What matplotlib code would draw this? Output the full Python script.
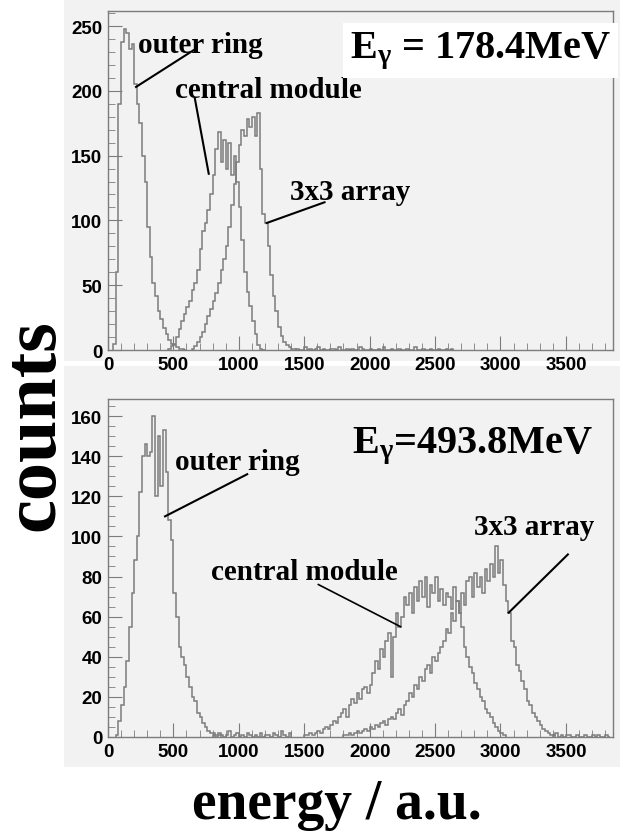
import numpy as np
import matplotlib
matplotlib.use('Agg')
import matplotlib.pyplot as plt
from matplotlib.patches import Rectangle

plt.rcParams['mathtext.fontset'] = 'custom'
plt.rcParams['mathtext.rm'] = 'Liberation Serif:bold'
plt.rcParams['mathtext.bf'] = 'Liberation Serif:bold'
plt.rcParams['mathtext.it'] = 'Liberation Serif:bold'

BIN = 20

# top panel, E_gamma = 178.4 MeV
outer_top_start = 40
outer_top = [5, 60, 190, 238, 248, 245, 232, 236, 205, 190, 175, 150, 130, 95, 72, 52,
             42, 30, 24, 17, 12, 8, 5, 4, 2, 1, 1, 0]
central_top_start = 460
central_top = [1, 3, 5, 10, 16, 22, 28, 33, 38, 46, 52, 62, 78, 92, 98, 108, 120, 135,
               155, 168, 145, 162, 140, 160, 135, 150, 130, 110, 85, 60, 45, 34, 22,
               12, 4, 1, 0]
array_top_start = 640
array_top = [1, 3, 6, 10, 14, 20, 26, 32, 38, 44, 52, 62, 70, 80, 95, 112, 128, 145,
             158, 170, 165, 178, 172, 180, 165, 183, 140, 105, 98, 80, 58, 42, 30, 18,
             11, 6, 4, 2, 1, 1]
noise_top_start = 1440
noise_top = [1, 0, 0, 2, 0, 1, 0, 1, 2, 0, 1, 0, 0, 1, 1, 0, 2, 0, 0, 1, 0, 1, 0, 0,
             2, 1, 0, 0, 1, 0, 0, 1, 0, 2, 0, 0, 1, 0, 0, 1, 0, 0, 1, 0, 0, 2, 0, 0,
             1, 0, 0, 1, 0, 0, 1, 0, 0, 1, 0, 1]

# bottom panel, E_gamma = 493.8 MeV
outer_bot_start = 60
outer_bot = [1, 8, 16, 25, 38, 55, 72, 88, 100, 122, 140, 146, 140, 142, 160, 120, 150,
             125, 153, 132, 108, 98, 72, 60, 45, 40, 36, 30, 25, 20, 18, 12, 10, 7, 5,
             3, 2, 2, 1, 1]
central_bot_start = 1500
central_bot = [1, 1, 2, 1, 2, 3, 2, 4, 5, 4, 6, 8, 7, 10, 12, 14, 10, 16, 19, 17, 22,
               19, 24, 25, 22, 26, 32, 38, 34, 44, 40, 48, 52, 30, 50, 62, 55, 60, 70,
               66, 72, 62, 75, 68, 78, 70, 80, 65, 76, 72, 80, 68, 74, 66, 72, 70, 64,
               75, 68, 62, 55, 45, 40, 35, 32, 27, 24, 20, 18, 14, 12, 10, 7, 5, 3, 2, 1]
array_bot_start = 1800
array_bot = [1, 1, 2, 1, 2, 3, 2, 3, 4, 3, 5, 4, 6, 5, 7, 8, 6, 9, 10, 9, 12, 14, 11,
             16, 18, 22, 20, 26, 24, 30, 28, 34, 36, 32, 40, 38, 42, 45, 48, 54, 52, 62,
             58, 68, 62, 72, 66, 78, 80, 70, 82, 75, 80, 72, 84, 78, 86, 80, 95, 82, 88,
             76, 68, 62, 48, 45, 36, 33, 28, 24, 18, 16, 12, 10, 8, 6, 4, 3, 2, 1, 1]
noise_bot_start = 800
noise_bot = [1, 0, 2, 1, 0, 1, 3, 0, 1, 2, 0, 1, 0, 2, 1, 0, 1, 0, 2, 0, 1, 1, 0, 2,
             1, 0, 3, 1, 0, 2]
noise_bot2_start = 3400
noise_bot2 = [1, 2, 0, 1, 0, 1, 1, 0, 0, 1, 0, 0, 1, 0, 0, 1, 0, 1, 0, 0, 1, 0]

LINE = '#7c7c7c'
BG = '#f2f2f2'
W, H = 623, 837

fig = plt.figure(figsize=(W / 100, H / 100), dpi=100)
fig.patch.set_facecolor('white')

# grey canvases behind the two pads
for x0, y0, x1, y1 in [(64, 0, 620, 362), (64, 367, 620, 768)]:
    fig.patches.append(Rectangle((x0 / W, 1 - y1 / H), (x1 - x0) / W, (y1 - y0) / H,
                                 transform=fig.transFigure, facecolor=BG,
                                 edgecolor='none', zorder=-5))

ax1 = fig.add_axes([108 / W, 1 - 351 / H, 505 / W, 339 / H])
ax2 = fig.add_axes([108 / W, 1 - 738 / H, 505 / W, 338 / H])


def hist(ax, start, counts):
    edges = start + BIN * np.arange(len(counts) + 1)
    ax.stairs(counts, edges, color=LINE, lw=1.1)


def style(ax, ymax, ymaj, ymin):
    ax.set_facecolor(BG)
    ax.set_xlim(0, 3860)
    ax.set_ylim(0, ymax)
    ax.set_xticks(np.arange(0, 3501, 500))
    ax.set_xticks(np.arange(0, 3860, 100), minor=True)
    ax.set_yticks(np.arange(0, ymax, ymaj))
    ax.set_yticks(np.arange(0, ymax, ymin), minor=True)
    ax.tick_params(which='both', direction='in', color=LINE, top=False, right=False)
    ax.tick_params(which='major', length=10, pad=4)
    ax.tick_params(which='minor', length=5)
    for lab in ax.get_xticklabels() + ax.get_yticklabels():
        lab.set_fontfamily('Liberation Sans')
        lab.set_fontweight('bold')
        lab.set_fontsize(13.5)
    for sp in ax.spines.values():
        sp.set_color(LINE)
        sp.set_linewidth(1)


serif = dict(family='Liberation Serif', weight='bold', color='black')

# top panel
hist(ax1, outer_top_start, outer_top)
hist(ax1, central_top_start, central_top)
hist(ax1, array_top_start, array_top)
hist(ax1, noise_top_start, noise_top)
style(ax1, 261.6, 50, 10)
ax1.text(229, 230, 'outer ring', fontsize=21, **serif)
ax1.plot([664, 214], [232, 203], color='black', lw=1.5)
ax1.text(511, 195, 'central module', fontsize=21, **serif)
ax1.plot([664, 770], [194, 136], color='black', lw=1.5)
ax1.text(1388, 116.5, '3x3 array', fontsize=21, **serif)
ax1.plot([1655, 1213], [114, 98], color='black', lw=1.5)
ax1.text(1850, 226, r'E$_{\gamma}$ = 178.4MeV', fontsize=29, **serif,
         bbox=dict(facecolor='white', edgecolor='none', pad=5))

# bottom panel
hist(ax2, outer_bot_start, outer_bot)
hist(ax2, central_bot_start, central_bot)
hist(ax2, array_bot_start, array_bot)
hist(ax2, noise_bot_start, noise_bot)
hist(ax2, noise_bot2_start, noise_bot2)
style(ax2, 168.5, 20, 5)
ax2.text(513, 133.6, 'outer ring', fontsize=21, **serif)
ax2.plot([1064, 436], [131, 110], color='black', lw=1.5)
ax2.text(789, 79, 'central module', fontsize=21, **serif)
ax2.plot([1608, 2236], [76, 55], color='black', lw=1.2)
ax2.text(2795, 101, '3x3 array', fontsize=21, **serif)
ax2.plot([3515, 3063], [91, 62], color='black', lw=1.5)
ax2.text(1868, 142, r'E$_{\gamma}$=493.8MeV', fontsize=29, **serif)

fig.text(35 / W, 1 - 425 / H, 'counts', rotation=90, ha='center', va='center',
         fontsize=55, **serif)
fig.text(337 / W, 1 - 805 / H, 'energy / a.u.', ha='center', va='center',
         fontsize=40, **serif)

fig.savefig('out.png', dpi=100)
